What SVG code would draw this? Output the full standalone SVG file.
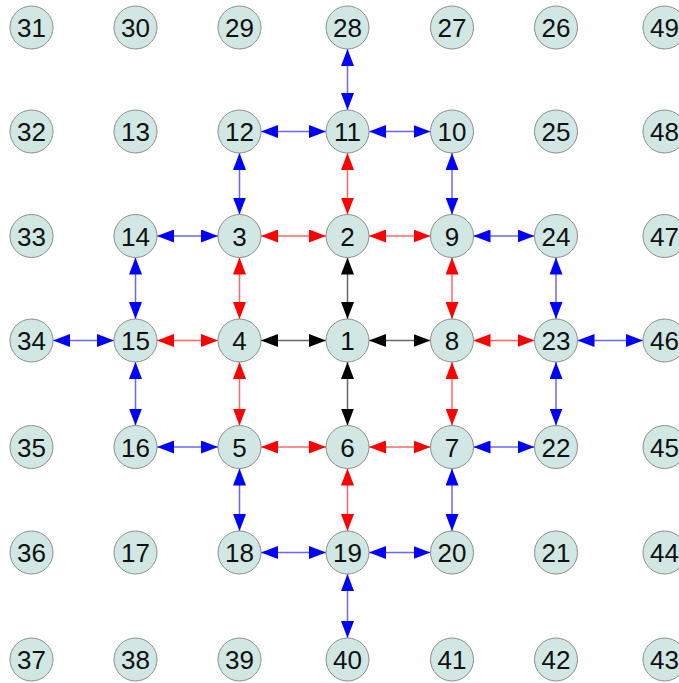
<svg xmlns="http://www.w3.org/2000/svg" width="679" height="683" viewBox="0 0 679 683">
<style>
.n circle{fill:#d0e7e3;stroke:#8c8c8c;stroke-width:1}
.n text{font-family:"Liberation Sans",Arial,sans-serif;font-size:26px;fill:#111;text-anchor:middle}
.n rect{fill:#b0b0b0}
.e line{stroke-width:1.5;stroke-opacity:0.6}
.k{stroke:#000;marker-start:url(#ak);marker-end:url(#ak)}
.r{stroke:#ff0000;marker-start:url(#ar);marker-end:url(#ar)}
.b{stroke:#0000ff;marker-start:url(#ab);marker-end:url(#ab)}
</style>
<defs>
<marker id="ak" markerUnits="userSpaceOnUse" markerWidth="17" markerHeight="13" refX="17" refY="6.5" orient="auto-start-reverse"><path d="M0,0L17,6.5L0,13z" fill="#000"/></marker>
<marker id="ar" markerUnits="userSpaceOnUse" markerWidth="17" markerHeight="13" refX="17" refY="6.5" orient="auto-start-reverse"><path d="M0,0L17,6.5L0,13z" fill="#ff0000"/></marker>
<marker id="ab" markerUnits="userSpaceOnUse" markerWidth="17" markerHeight="13" refX="17" refY="6.5" orient="auto-start-reverse"><path d="M0,0L17,6.5L0,13z" fill="#0000ff"/></marker>
</defs>
<rect width="679" height="683" fill="#fff"/>
<g id="connectors" class="e">
<line class="k" x1="347.5" y1="257.5" x2="347.5" y2="319"/>
<line class="k" x1="347.5" y1="362" x2="347.5" y2="425.5"/>
<line class="k" x1="261" y1="340.5" x2="326" y2="340.5"/>
<line class="k" x1="369" y1="340.5" x2="430.5" y2="340.5"/>
<line class="r" x1="261" y1="236" x2="326" y2="236"/>
<line class="r" x1="369" y1="236" x2="430.5" y2="236"/>
<line class="r" x1="347.5" y1="153" x2="347.5" y2="214.5"/>
<line class="r" x1="239.5" y1="257.5" x2="239.5" y2="319"/>
<line class="r" x1="452" y1="257.5" x2="452" y2="319"/>
<line class="r" x1="157" y1="340.5" x2="218" y2="340.5"/>
<line class="r" x1="239.5" y1="362" x2="239.5" y2="425.5"/>
<line class="r" x1="473.5" y1="340.5" x2="534.5" y2="340.5"/>
<line class="r" x1="452" y1="362" x2="452" y2="425.5"/>
<line class="r" x1="261" y1="447" x2="326" y2="447"/>
<line class="r" x1="369" y1="447" x2="430.5" y2="447"/>
<line class="r" x1="347.5" y1="468.5" x2="347.5" y2="531"/>
<line class="b" x1="347.5" y1="49" x2="347.5" y2="110"/>
<line class="b" x1="261" y1="131.5" x2="326" y2="131.5"/>
<line class="b" x1="369" y1="131.5" x2="430.5" y2="131.5"/>
<line class="b" x1="239.5" y1="153" x2="239.5" y2="214.5"/>
<line class="b" x1="452" y1="153" x2="452" y2="214.5"/>
<line class="b" x1="157" y1="236" x2="218" y2="236"/>
<line class="b" x1="473.5" y1="236" x2="534.5" y2="236"/>
<line class="b" x1="135.5" y1="257.5" x2="135.5" y2="319"/>
<line class="b" x1="556" y1="257.5" x2="556" y2="319"/>
<line class="b" x1="53" y1="340.5" x2="114" y2="340.5"/>
<line class="b" x1="577.5" y1="340.5" x2="643" y2="340.5"/>
<line class="b" x1="135.5" y1="362" x2="135.5" y2="425.5"/>
<line class="b" x1="556" y1="362" x2="556" y2="425.5"/>
<line class="b" x1="157" y1="447" x2="218" y2="447"/>
<line class="b" x1="473.5" y1="447" x2="534.5" y2="447"/>
<line class="b" x1="239.5" y1="468.5" x2="239.5" y2="531"/>
<line class="b" x1="452" y1="468.5" x2="452" y2="531"/>
<line class="b" x1="261" y1="552.5" x2="326" y2="552.5"/>
<line class="b" x1="369" y1="552.5" x2="430.5" y2="552.5"/>
<line class="b" x1="347.5" y1="574" x2="347.5" y2="638"/>
</g>
<g id="nodes">
<g id="n31" class="n" transform="translate(31.5,27.5)"><circle r="21.5"/><text y="9.5">31</text></g>
<g id="n30" class="n" transform="translate(135.5,27.5)"><circle r="21.5"/><text y="9.5">30</text></g>
<g id="n29" class="n" transform="translate(239.5,27.5)"><circle r="21.5"/><text y="9.5">29</text></g>
<g id="n28" class="n" transform="translate(347.5,27.5)"><circle r="21.5"/><text y="9.5">28</text></g>
<g id="n27" class="n" transform="translate(452,27.5)"><circle r="21.5"/><text y="9.5">27</text></g>
<g id="n26" class="n" transform="translate(556,27.5)"><circle r="21.5"/><text y="9.5">26</text></g>
<g id="n49" class="n" transform="translate(664.5,27.5)"><circle r="21.5"/><text y="9.5">49</text></g>
<g id="n32" class="n" transform="translate(31.5,131.5)"><circle r="21.5"/><text y="9.5">32</text></g>
<g id="n13" class="n" transform="translate(135.5,131.5)"><circle r="21.5"/><text y="9.5">13</text></g>
<g id="n12" class="n" transform="translate(239.5,131.5)"><circle r="21.5"/><text y="9.5">12</text></g>
<g id="n11" class="n" transform="translate(347.5,131.5)"><circle r="21.5"/><text y="9.5">11</text></g>
<g id="n10" class="n" transform="translate(452,131.5)"><circle r="21.5"/><text y="9.5">10</text></g>
<g id="n25" class="n" transform="translate(556,131.5)"><circle r="21.5"/><text y="9.5">25</text></g>
<g id="n48" class="n" transform="translate(664.5,131.5)"><circle r="21.5"/><text y="9.5">48</text></g>
<g id="n33" class="n" transform="translate(31.5,236)"><circle r="21.5"/><text y="9.5">33</text></g>
<g id="n14" class="n" transform="translate(135.5,236)"><circle r="21.5"/><text y="9.5">14</text></g>
<g id="n3" class="n" transform="translate(239.5,236)"><circle r="21.5"/><text y="9.5">3</text></g>
<g id="n2" class="n" transform="translate(347.5,236)"><circle r="21.5"/><text y="9.5">2</text></g>
<g id="n9" class="n" transform="translate(452,236)"><circle r="21.5"/><text y="9.5">9</text></g>
<g id="n24" class="n" transform="translate(556,236)"><circle r="21.5"/><text y="9.5">24</text></g>
<g id="n47" class="n" transform="translate(664.5,236)"><circle r="21.5"/><text y="9.5">47</text></g>
<g id="n34" class="n" transform="translate(31.5,340.5)"><circle r="21.5"/><text y="9.5">34</text></g>
<g id="n15" class="n" transform="translate(135.5,340.5)"><circle r="21.5"/><text y="9.5">15</text></g>
<g id="n4" class="n" transform="translate(239.5,340.5)"><circle r="21.5"/><text y="9.5">4</text></g>
<g id="n1" class="n" transform="translate(347.5,340.5)"><circle r="21.5"/><text y="9.5">1</text></g>
<g id="n8" class="n" transform="translate(452,340.5)"><circle r="21.5"/><text y="9.5">8</text></g>
<g id="n23" class="n" transform="translate(556,340.5)"><circle r="21.5"/><text y="9.5">23</text></g>
<g id="n46" class="n" transform="translate(664.5,340.5)"><circle r="21.5"/><text y="9.5">46</text></g>
<g id="n35" class="n" transform="translate(31.5,447)"><circle r="21.5"/><text y="9.5">35</text></g>
<g id="n16" class="n" transform="translate(135.5,447)"><circle r="21.5"/><text y="9.5">16</text></g>
<g id="n5" class="n" transform="translate(239.5,447)"><circle r="21.5"/><text y="9.5">5</text></g>
<g id="n6" class="n" transform="translate(347.5,447)"><circle r="21.5"/><text y="9.5">6</text></g>
<g id="n7" class="n" transform="translate(452,447)"><circle r="21.5"/><text y="9.5">7</text></g>
<g id="n22" class="n" transform="translate(556,447)"><circle r="21.5"/><text y="9.5">22</text></g>
<g id="n45" class="n" transform="translate(664.5,447)"><circle r="21.5"/><text y="9.5">45</text></g>
<g id="n36" class="n" transform="translate(31.5,552.5)"><circle r="21.5"/><text y="9.5">36</text></g>
<g id="n17" class="n" transform="translate(135.5,552.5)"><circle r="21.5"/><text y="9.5">17</text></g>
<g id="n18" class="n" transform="translate(239.5,552.5)"><circle r="21.5"/><text y="9.5">18</text></g>
<g id="n19" class="n" transform="translate(347.5,552.5)"><circle r="21.5"/><text y="9.5">19</text></g>
<g id="n20" class="n" transform="translate(452,552.5)"><circle r="21.5"/><text y="9.5">20</text></g>
<g id="n21" class="n" transform="translate(556,552.5)"><circle r="21.5"/><text y="9.5">21</text></g>
<g id="n44" class="n" transform="translate(664.5,552.5)"><circle r="21.5"/><text y="9.5">44</text></g>
<g id="n37" class="n" transform="translate(31.5,659.5)"><circle r="21.5"/><text y="9.5">37</text></g>
<g id="n38" class="n" transform="translate(135.5,659.5)"><circle r="21.5"/><text y="9.5">38</text></g>
<g id="n39" class="n" transform="translate(239.5,659.5)"><circle r="21.5"/><text y="9.5">39</text></g>
<g id="n40" class="n" transform="translate(347.5,659.5)"><circle r="21.5"/><text y="9.5">40</text></g>
<g id="n41" class="n" transform="translate(452,659.5)"><circle r="21.5"/><text y="9.5">41</text></g>
<g id="n42" class="n" transform="translate(556,659.5)"><circle r="21.5"/><text y="9.5">42</text></g>
<g id="n43" class="n" transform="translate(664.5,659.5)"><circle r="21.5"/><text y="9.5">43</text></g>
</g>
</svg>
